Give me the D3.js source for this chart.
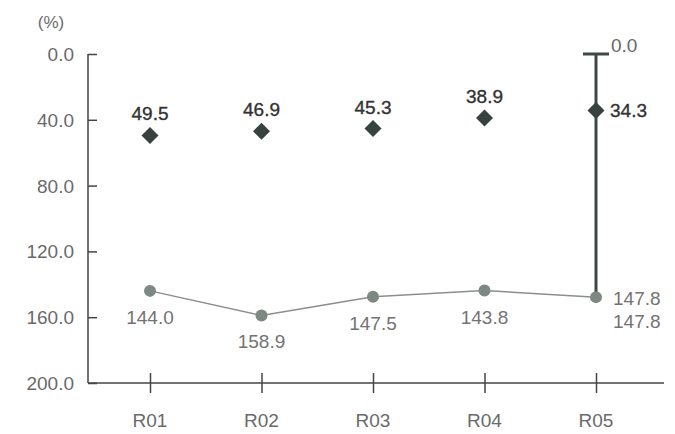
<!DOCTYPE html>
<html>
<head>
<meta charset="utf-8">
<script src="https://cdn.jsdelivr.net/npm/d3@7"></script>
<style>
  html, body { margin: 0; padding: 0; background: #fff; }
  svg { display: block; font-family: "Liberation Sans", Arial, sans-serif; }
</style>
</head>
<body>
<svg id="chart" width="675" height="434"></svg>
<script>
// Categories and the two series (percent)
const categories = ["R01", "R02", "R03", "R04", "R05"];
const upperValues = [49.5, 46.9, 45.3, 38.9, 34.3];
const lowerValues = [144.0, 158.9, 147.5, 143.8, 147.8];
const yTicks = [0, 40, 80, 120, 160, 200];
// Range marker drawn on the last category: from 0.0 down to the lower value
const rangeTop = 0.0;

const svg = d3.select("#chart");
const plotLeft = 88, plotRight = 664, plotTop = 54, plotBottom = 383;

const x = d3.scalePoint().domain(categories).range([150, 596]);
const y = d3.scaleLinear().domain([0, 200]).range([plotTop, plotBottom]);

const axisColor = "#444";
const textGray = "#6a6a6a";
const fmt = d3.format(".1f");

// Y axis: ticks point inward
const yAxis = svg.append("g")
  .attr("transform", `translate(${plotLeft},0)`)
  .call(d3.axisRight(y).tickValues(yTicks).tickSize(9).tickFormat(() => ""));
yAxis.select(".domain").remove();
yAxis.selectAll(".tick line").attr("stroke", axisColor).attr("stroke-width", 1.5);
svg.append("line")
  .attr("x1", plotLeft).attr("x2", plotLeft).attr("y1", y(0)).attr("y2", y(200))
  .attr("stroke", axisColor).attr("stroke-width", 1.5);

// Y tick labels
svg.append("g").selectAll("text").data(yTicks).join("text")
  .attr("x", 74).attr("y", d => y(d) + 7)
  .attr("text-anchor", "end")
  .attr("font-size", 19).attr("fill", textGray)
  .text(d => fmt(d));

svg.append("text").attr("x", 51).attr("y", 28)
  .attr("text-anchor", "middle").attr("font-size", 17).attr("fill", textGray)
  .text("(%)");

// X axis with ticks crossing the baseline
const xAxis = svg.append("g")
  .attr("transform", `translate(0,${plotBottom - 10})`)
  .call(d3.axisBottom(x).tickSize(20).tickFormat(() => ""));
xAxis.select(".domain").remove();
xAxis.selectAll(".tick line").attr("stroke", axisColor).attr("stroke-width", 1.5);
svg.append("line")
  .attr("x1", plotLeft).attr("x2", plotRight).attr("y1", plotBottom).attr("y2", plotBottom)
  .attr("stroke", axisColor).attr("stroke-width", 1.5);

svg.append("g").selectAll("text").data(categories).join("text")
  .attr("x", d => x(d)).attr("y", 427)
  .attr("text-anchor", "middle").attr("font-size", 19).attr("fill", textGray)
  .text(d => d);

// Range marker on the last category
const lastCat = categories[categories.length - 1];
const lastLower = lowerValues[lowerValues.length - 1];
svg.append("line")
  .attr("x1", x(lastCat)).attr("x2", x(lastCat))
  .attr("y1", y(rangeTop)).attr("y2", y(lastLower))
  .attr("stroke", "#3e4844").attr("stroke-width", 3);
svg.append("line")
  .attr("x1", x(lastCat) - 13).attr("x2", x(lastCat) + 13)
  .attr("y1", y(rangeTop)).attr("y2", y(rangeTop))
  .attr("stroke", "#3e4844").attr("stroke-width", 3);
svg.append("text")
  .attr("x", x(lastCat) + 15).attr("y", y(rangeTop) - 2)
  .attr("font-size", 19).attr("fill", textGray)
  .text(fmt(rangeTop));

// Lower series: gray line with circles
const lowerData = categories.map((c, i) => ({ c, v: lowerValues[i], last: i === categories.length - 1 }));
svg.append("path")
  .datum(lowerData)
  .attr("d", d3.line().x(d => x(d.c)).y(d => y(d.v)))
  .attr("fill", "none").attr("stroke", "#8a8f8c").attr("stroke-width", 1.5);
svg.append("g").selectAll("circle").data(lowerData).join("circle")
  .attr("cx", d => x(d.c)).attr("cy", d => y(d.v)).attr("r", 6)
  .attr("fill", "#7d8883");
svg.append("g").selectAll("text").data(lowerData).join("text")
  .attr("x", d => d.last ? x(d.c) + 17 : x(d.c))
  .attr("y", d => d.last ? y(d.v) + 31 : y(d.v) + 33)
  .attr("text-anchor", d => d.last ? "start" : "middle")
  .attr("font-size", 19).attr("fill", "#737373")
  .text(d => fmt(d.v));
// Value shown beside the last point as well
svg.append("text")
  .attr("x", x(lastCat) + 17).attr("y", y(lastLower) + 8)
  .attr("font-size", 19).attr("fill", "#737373")
  .text(fmt(lastLower));

// Upper series: dark diamonds (square turned 45 degrees)
const upperData = categories.map((c, i) => ({ c, v: upperValues[i], last: i === categories.length - 1 }));
const dr = 8.5;
svg.append("g").selectAll("path").data(upperData).join("path")
  .attr("transform", d => `translate(${x(d.c)},${y(d.v)})`)
  .attr("d", `M0,${-dr}L${dr},0L0,${dr}L${-dr},0Z`)
  .attr("fill", "#38423e");
svg.append("g").selectAll("text").data(upperData).join("text")
  .attr("x", d => d.last ? x(d.c) + 14 : x(d.c))
  .attr("y", d => d.last ? y(d.v) + 7 : y(d.v) - 15)
  .attr("text-anchor", d => d.last ? "start" : "middle")
  .attr("font-size", 19).attr("fill", "#333")
  .attr("stroke", "#333").attr("stroke-width", 0.35)
  .text(d => fmt(d.v));
</script>
</body>
</html>
